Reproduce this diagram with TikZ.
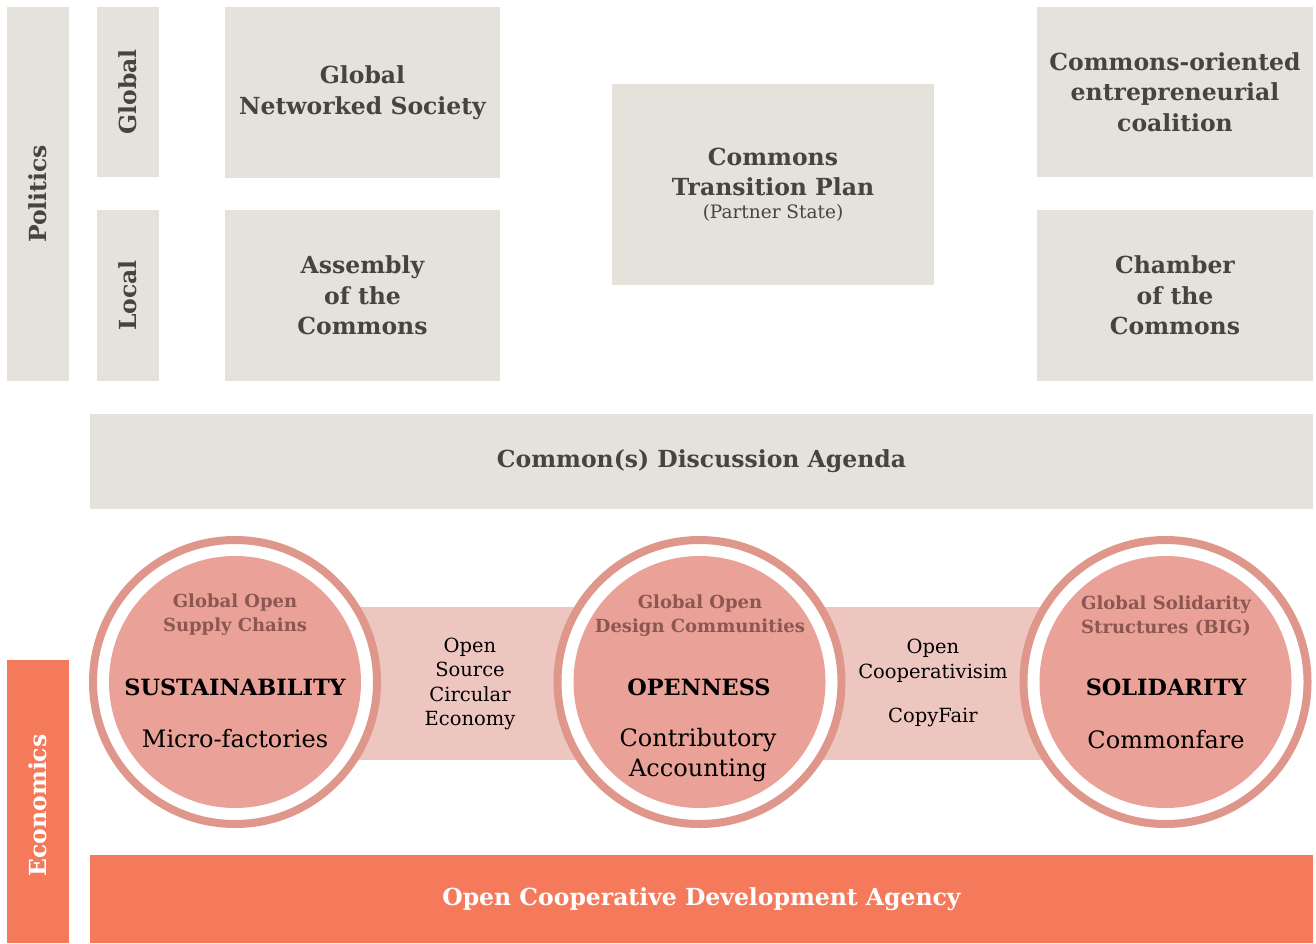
\documentclass[tikz,border=0pt]{standalone}
\usepackage{fontspec}
\setmainfont{DejaVu Serif}
\definecolor{greybox}{HTML}{E5E2DC}
\definecolor{darktext}{HTML}{474341}
\definecolor{orangebar}{HTML}{F47A5B}
\definecolor{ringcol}{HTML}{DE978A}
\definecolor{innercol}{HTML}{E9A198}
\definecolor{bandcol}{HTML}{EEC6C0}
\definecolor{subcol}{HTML}{8C5751}
\begin{document}
\begin{tikzpicture}[x=1pt,y=-1pt,
  gbox/.style={fill=greybox, inner sep=0pt, text=darktext, align=center, font=\bfseries\fontsize{23.5}{30.5}\selectfont},
  obox/.style={fill=orangebar, inner sep=0pt, text=white, align=center, font=\bfseries\fontsize{23.5}{30}\selectfont},
  subt/.style={text=subcol, align=center, font=\bfseries\fontsize{18}{24}\selectfont},
  maint/.style={text=black, align=center, font=\bfseries\fontsize{22.4}{26}\selectfont},
  lowt/.style={text=black, align=center, font=\fontsize{24}{30}\selectfont},
  bandt/.style={text=black, align=center, font=\fontsize{19.5}{24.5}\selectfont},
  ring/.style={draw=ringcol, line width=8pt, fill=white},
  innerc/.style={fill=innercol}
]
\useasboundingbox (0,0) rectangle (1316,943);
% Politics column
\node[gbox, minimum width=374, minimum height=62, rotate=90] (politics) at (38,194) {Politics};
\node[gbox, minimum width=170, minimum height=62, rotate=90] (global) at (128,92) {Global};
\node[gbox, minimum width=171, minimum height=62, rotate=90] (local) at (128,295.5) {Local};
\node[gbox, minimum width=275, minimum height=171] (gns) at (362.5,92.5) {\raisebox{-2pt}{\parbox{275pt}{\centering Global\\Networked Society}}};
\node[gbox, minimum width=275, minimum height=171] (aoc) at (362.5,295.5) {Assembly\\of the\\Commons};
\node[gbox, minimum width=322, minimum height=201] (ctp) at (773,184.5) {Commons\\Transition Plan\\[-8pt]{\mdseries\fontsize{18.5}{22}\selectfont (Partner State)}};
\node[gbox, minimum width=276, minimum height=170] (coec) at (1175,92) {Commons-oriented\\entrepreneurial\\coalition};
\node[gbox, minimum width=276, minimum height=171] (cotc) at (1175,295.5) {Chamber\\of the\\Commons};
\node[gbox, minimum width=1223, minimum height=95] (cda) at (701.5,461.5) {\raisebox{-3pt}{Common(s) Discussion Agenda}};
% Economics
\node[obox, minimum width=283, minimum height=62, rotate=90] (economics) at (38,801.5) {\hspace{-8pt}Economics};
\node[obox, minimum width=1223, minimum height=88] (ocda) at (701.5,899) {\raisebox{-4pt}{Open Cooperative Development Agency}};
% band
\fill[bandcol] (355,607) rectangle (1050,760);
% circles
\node[ring, circle, minimum size=284, inner sep=0pt] (c1ring) at (235,682) {};
\node[innerc, circle, minimum size=252, inner sep=0pt] (c1) at (235,682) {};
\node[ring, circle, minimum size=284, inner sep=0pt] (c2ring) at (699.5,682) {};
\node[innerc, circle, minimum size=252, inner sep=0pt] (c2) at (699.5,682) {};
\node[ring, circle, minimum size=284, inner sep=0pt] (c3ring) at (1165.5,682) {};
\node[innerc, circle, minimum size=252, inner sep=0pt] (c3) at (1165.5,682) {};
% circle texts
\node[subt] (s1) at (235,615) {Global Open\\Supply Chains};
\node[maint] (m1) at (235,687) {SUSTAINABILITY};
\node[lowt] (l1) at (235,739) {Micro-factories};
\node[subt] (s2) at (700,616) {Global Open\\Design Communities};
\node[maint] (m2) at (699,687) {OPENNESS};
\node[lowt] (l2) at (698,755) {Contributory\\Accounting};
\node[subt] (s3) at (1166,616) {Global Solidarity\\Structures (BIG)};
\node[maint] (m3) at (1166,687) {SOLIDARITY};
\node[lowt] (l3) at (1166,740) {Commonfare};
% band texts
\node[bandt] (b1) at (470,684) {Open\\Source\\Circular\\Economy};
\node[bandt] (b2) at (933,661) {Open\\Cooperativisim};
\node[bandt] (b3) at (933,717) {CopyFair};
\end{tikzpicture}
\end{document}
